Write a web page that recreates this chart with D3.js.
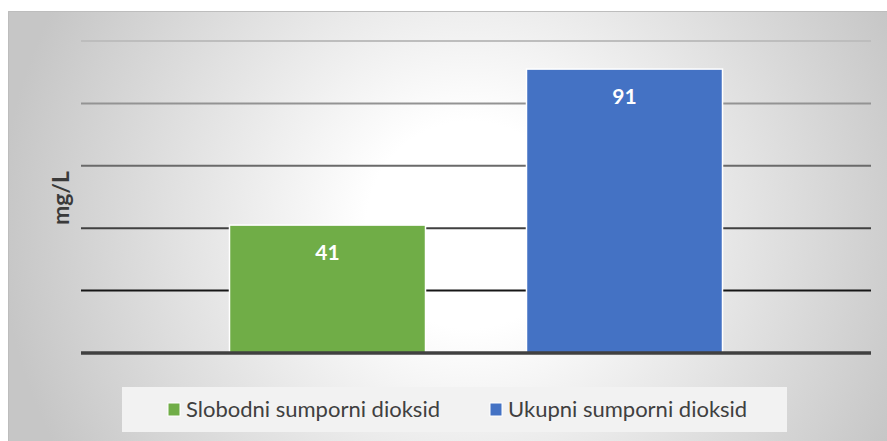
<!DOCTYPE html>
<html>
<head>
<meta charset="utf-8">
<script src="https://cdn.jsdelivr.net/npm/d3@7"></script>
<style>
body { margin: 0; background: #ffffff; }
svg { display: block; font-family: Lato, "Open Sans", sans-serif; }
</style>
</head>
<body>
<svg id="chart"></svg>
<script>
var series = ["Slobodni sumporni dioksid", "Ukupni sumporni dioksid"];
var values = [41, 91];
var colors = ["#70ad47", "#4472c4"];
var ticks = [0, 20, 40, 60, 80, 100];
var yTitle = "mg/L";

var screen = {width: 887, height: 441};
var frame = {left: 8, top: 11, right: 887, bottom: 441};
var plot = {left: 81, right: 871, top: 41, bottom: 353};

var svg = d3.select("#chart")
    .attr("width", screen.width)
    .attr("height", screen.height);

// radial background
var defs = svg.append("defs");
var grad = defs.append("radialGradient")
    .attr("id", "bg")
    .attr("gradientUnits", "userSpaceOnUse")
    .attr("cx", 470).attr("cy", 225).attr("r", 470);
grad.append("stop").attr("offset", "0.22").attr("stop-color", "#ffffff");
grad.append("stop").attr("offset", "1").attr("stop-color", "#c6c6c6");

svg.append("rect")
    .attr("x", frame.left).attr("y", frame.top)
    .attr("width", frame.right - frame.left)
    .attr("height", frame.bottom - frame.top)
    .attr("fill", "url(#bg)");
svg.append("path")
    .attr("d", "M" + (frame.left + 0.5) + "," + frame.bottom + "V" + (frame.top + 0.5) + "H" + frame.right)
    .attr("fill", "none")
    .attr("stroke", "#bdbdbd")
    .attr("stroke-width", 1);

var xScale = d3.scaleBand()
    .domain(series)
    .range([plot.left, plot.right])
    .paddingInner(0.34)
    .paddingOuter(0.5);

var yScale = d3.scaleLinear()
    .domain([0, 100])
    .range([plot.bottom, plot.top]);

var gridColor = d3.scaleLinear()
    .domain([100, 20])
    .range(["#bdbdbd", "#161616"]);

//gridlines
svg.append("g")
    .selectAll("line")
    .data(ticks.filter(function(t) { return t > 0; }))
    .enter()
    .append("line")
    .attr("x1", plot.left)
    .attr("x2", plot.right)
    .attr("y1", function(t) { return yScale(t); })
    .attr("y2", function(t) { return yScale(t); })
    .attr("stroke", function(t) { return gridColor(t); })
    .attr("stroke-width", 2);

//bars
svg.append("g")
    .selectAll("rect")
    .data(values)
    .enter()
    .append("rect")
    .attr("x", function(v, i) { return xScale(series[i]); })
    .attr("y", function(v) { return yScale(v); })
    .attr("width", xScale.bandwidth())
    .attr("height", function(v) { return yScale(0) - yScale(v); })
    .attr("fill", function(v, i) { return colors[i]; })
    .attr("stroke", "#ffffff")
    .attr("stroke-width", 1.5);

//value labels
svg.append("g")
    .selectAll("text")
    .data(values)
    .enter()
    .append("text")
    .attr("x", function(v, i) { return xScale(series[i]) + xScale.bandwidth() / 2; })
    .attr("y", function(v) { return yScale(v) + 35; })
    .attr("text-anchor", "middle")
    .attr("fill", "#ffffff")
    .attr("font-weight", "bold")
    .attr("font-size", 21)
    .text(function(v) { return v; });

//baseline
svg.append("line")
    .attr("x1", plot.left)
    .attr("x2", plot.right)
    .attr("y1", yScale(0))
    .attr("y2", yScale(0))
    .attr("stroke", "#404040")
    .attr("stroke-width", 3.5);

//y title
svg.append("text")
    .attr("transform", "translate(69,198) rotate(-90)")
    .attr("text-anchor", "middle")
    .attr("font-weight", "bold")
    .attr("font-size", 23)
    .attr("fill", "#3a3a3a")
    .text(yTitle);

//legend
var legend = svg.append("g");
legend.append("rect")
    .attr("x", 122).attr("y", 387)
    .attr("width", 665).attr("height", 45)
    .attr("fill", "#f2f2f2");

var itemX = [168, 490];
var items = legend.selectAll("g.item")
    .data(series)
    .enter()
    .append("g")
    .classed("item", true)
    .attr("transform", function(s, i) { return "translate(" + itemX[i] + ",403)"; });
items.append("rect")
    .attr("width", 12).attr("height", 13)
    .attr("fill", function(s, i) { return colors[i]; })
    .attr("stroke", "#ffffff")
    .attr("stroke-width", 1);
items.append("text")
    .attr("x", 18)
    .attr("y", 14)
    .attr("font-size", 22)
    .attr("fill", "#404040")
    .text(function(s) { return s; });
</script>
</body>
</html>
